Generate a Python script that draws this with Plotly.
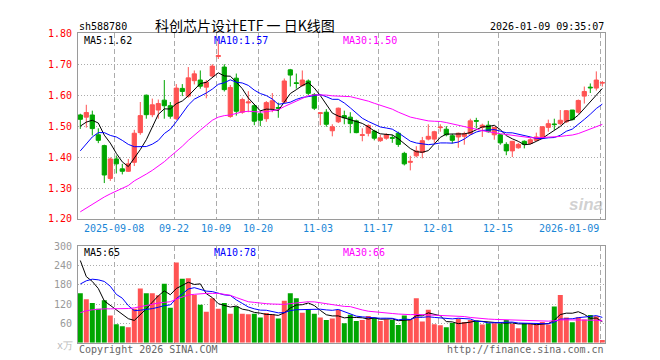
import pandas as pd
import plotly.graph_objects as go

# ---------------- data ----------------
holidays = ["2025-10-01", "2025-10-02", "2025-10-03", "2025-10-06", "2025-10-07",
            "2025-10-08", "2026-01-01", "2026-01-02"]
dates = [d.strftime("%Y-%m-%d") for d in pd.bdate_range("2025-08-29", "2026-01-09")
         if d.strftime("%Y-%m-%d") not in holidays]

open_ = [1.536, 1.529, 1.536, 1.472, 1.437, 1.331, 1.394, 1.362, 1.354, 1.383,
         1.479, 1.600, 1.537, 1.552, 1.584, 1.566, 1.524, 1.622, 1.597, 1.647,
         1.649, 1.626, 1.662, 1.725, 1.691, 1.531, 1.655, 1.545, 1.575, 1.566,
         1.540, 1.524, 1.557, 1.560, 1.578, 1.682, 1.640, 1.631, 1.646, 1.602,
         1.541, 1.545, 1.485, 1.514, 1.534, 1.529, 1.517, 1.470, 1.477, 1.484,
         1.453, 1.461, 1.463, 1.477, 1.412, 1.383, 1.404, 1.415, 1.458, 1.458,
         1.495, 1.490, 1.469, 1.465, 1.467, 1.475, 1.518, 1.496, 1.503, 1.472,
         1.472, 1.441, 1.420, 1.430, 1.451, 1.444, 1.454, 1.461, 1.496, 1.507,
         1.508, 1.514, 1.552, 1.545, 1.597, 1.626, 1.623, 1.639]
high = [1.540, 1.569, 1.550, 1.493, 1.440, 1.399, 1.405, 1.378, 1.394, 1.488,
        1.578, 1.602, 1.589, 1.586, 1.649, 1.578, 1.636, 1.636, 1.691, 1.680,
        1.680, 1.649, 1.700, 1.780, 1.700, 1.633, 1.670, 1.592, 1.613, 1.571,
        1.550, 1.581, 1.607, 1.576, 1.654, 1.685, 1.670, 1.680, 1.651, 1.607,
        1.545, 1.555, 1.506, 1.560, 1.550, 1.545, 1.521, 1.493, 1.506, 1.488,
        1.472, 1.477, 1.472, 1.482, 1.417, 1.404, 1.435, 1.465, 1.506, 1.485,
        1.506, 1.500, 1.475, 1.479, 1.482, 1.524, 1.527, 1.508, 1.517, 1.498,
        1.474, 1.448, 1.451, 1.446, 1.454, 1.461, 1.479, 1.500, 1.521, 1.524,
        1.552, 1.552, 1.552, 1.586, 1.628, 1.638, 1.677, 1.646]
low = [1.491, 1.495, 1.470, 1.445, 1.316, 1.323, 1.347, 1.344, 1.352, 1.371,
       1.472, 1.524, 1.529, 1.524, 1.524, 1.524, 1.520, 1.597, 1.592, 1.635,
       1.621, 1.590, 1.659, 1.717, 1.612, 1.527, 1.534, 1.540, 1.545, 1.503,
       1.500, 1.514, 1.545, 1.527, 1.575, 1.628, 1.621, 1.628, 1.600, 1.552,
       1.503, 1.498, 1.467, 1.510, 1.506, 1.477, 1.477, 1.451, 1.467, 1.454,
       1.449, 1.456, 1.446, 1.433, 1.373, 1.357, 1.399, 1.396, 1.454, 1.446,
       1.482, 1.467, 1.444, 1.430, 1.440, 1.472, 1.493, 1.465, 1.479, 1.456,
       1.440, 1.406, 1.400, 1.427, 1.428, 1.441, 1.451, 1.458, 1.482, 1.488,
       1.503, 1.510, 1.519, 1.540, 1.573, 1.607, 1.615, 1.628]
close = [1.522, 1.544, 1.492, 1.454, 1.342, 1.394, 1.378, 1.354, 1.378, 1.477,
         1.534, 1.537, 1.569, 1.573, 1.566, 1.532, 1.623, 1.612, 1.656, 1.669,
         1.629, 1.642, 1.694, 1.728, 1.618, 1.625, 1.548, 1.586, 1.578, 1.516,
         1.519, 1.576, 1.582, 1.558, 1.646, 1.665, 1.638, 1.649, 1.606, 1.558,
         1.543, 1.506, 1.498, 1.558, 1.527, 1.508, 1.479, 1.472, 1.502, 1.461,
         1.462, 1.472, 1.461, 1.441, 1.378, 1.386, 1.420, 1.453, 1.467, 1.482,
         1.497, 1.472, 1.454, 1.477, 1.475, 1.517, 1.516, 1.503, 1.482, 1.496,
         1.446, 1.420, 1.451, 1.441, 1.441, 1.456, 1.465, 1.498, 1.508, 1.505,
         1.519, 1.550, 1.521, 1.583, 1.612, 1.624, 1.649, 1.641]
volume = [153, 135, 123, 105, 132, 84, 57, 51, 48, 105,
          168, 153, 153, 147, 183, 108, 249, 198, 200, 148,
          118, 96, 138, 105, 123, 90, 112, 90, 88, 90,
          78, 92, 88, 75, 130, 153, 138, 93, 102, 90,
          78, 70, 75, 102, 60, 87, 67, 70, 83, 77,
          67, 72, 70, 55, 84, 73, 138, 66, 102, 57,
          54, 48, 61, 75, 64, 70, 68, 56, 60, 60,
          58, 70, 58, 45, 60, 60, 56, 64, 56, 112,
          148, 78, 63, 79, 72, 86, 82, 8]

# moving-average values for the first days (window not yet full)
ma5_head = [1.500, 1.513, 1.519, 1.510]
ma10_head = [1.420, 1.441, 1.465, 1.479, 1.479, 1.470, 1.465, 1.454, 1.441]
ma30_head = [1.223, 1.235, 1.248, 1.260, 1.271, 1.281, 1.290, 1.298, 1.308, 1.323,
             1.333, 1.345, 1.357, 1.371, 1.385, 1.402, 1.417, 1.435, 1.454, 1.472,
             1.487, 1.503, 1.519, 1.529, 1.534, 1.536, 1.542, 1.546, 1.548]
vma5_head = [255, 205, 190, 168]
vma10_head = [182, 192, 197, 195, 190, 175, 150, 138, 115]
vma30_head = [93, 99, 102, 104, 105, 105, 105, 105, 106, 108,
              112, 115, 120, 123, 125, 127, 135, 142, 148, 150,
              152, 153, 153, 153, 150, 147, 140, 133, 127]

tick_dates = ["2025-09-08", "2025-09-22", "2025-10-09", "2025-10-20", "2025-11-03",
              "2025-11-17", "2025-12-01", "2025-12-15", "2026-01-09"]
tick_labels = ["2025-09-08", "09-22", "10-09", "10-20", "11-03",
               "11-17", "12-01", "12-15", "2026-01-09"]
price_ticks = [1.20, 1.30, 1.40, 1.50, 1.60, 1.70, 1.80]
vol_ticks = [60, 120, 180, 240, 300]

title_text = "科创芯片设计ETF 一 日K线图"
code_text = "sh588780"
time_text = "2026-01-09 09:35:07"
price_ma_labels = ["MA5:1.62", "MA10:1.57", "MA30:1.50"]
vol_ma_labels = ["MA5:65", "MA10:78", "MA30:66"]


def moving_avg(vals, n, head):
    out = list(head)
    for i in range(len(head), len(vals)):
        out.append(sum(vals[i - n + 1:i + 1]) / n)
    return out


ma5 = moving_avg(close, 5, ma5_head)
ma10 = moving_avg(close, 10, ma10_head)
ma30 = moving_avg(close, 30, ma30_head)
vma5 = moving_avg(volume, 5, vma5_head)
vma10 = moving_avg(volume, 10, vma10_head)
vma30 = moving_avg(volume, 30, vma30_head)

# ---------------- style ----------------
W, H = 660, 360
L, R, T1, B1, T2, B2 = 70, 597, 20, 212, 240, 340
RED = "#FF5353"
GREEN = "#00A600"
MONO = "DejaVu Sans Mono"
GRID = "#ABABAB"
BORDER = "#9A9A9A"
DATE_BLUE = "#1A86D6"
MA_COLORS = ["#000000", "#0000FF", "#FF00FF"]

idx = list(range(len(dates)))
grid_x = [dates.index(d) - 1 / 3 for d in tick_dates]
vol_colors = [RED if c >= o else GREEN for o, c in zip(open_, close)]


def px(x):
    return x / W


def py(y):
    return 1 - y / H


fig = go.Figure()
fig.add_trace(go.Candlestick(
    x=idx, open=open_, high=high, low=low, close=close,
    increasing=dict(line=dict(color=RED, width=1), fillcolor=RED),
    decreasing=dict(line=dict(color=GREEN, width=1), fillcolor=GREEN),
    whiskerwidth=0, xaxis="x", yaxis="y", showlegend=False, hoverinfo="skip"))
for vals, col in zip([ma5, ma10, ma30], MA_COLORS):
    fig.add_trace(go.Scatter(x=idx, y=vals, mode="lines", line=dict(color=col, width=1),
                             xaxis="x", yaxis="y", showlegend=False, hoverinfo="skip"))
fig.add_trace(go.Bar(x=idx, y=volume, marker=dict(color=vol_colors, line=dict(width=0)),
                     xaxis="x2", yaxis="y2", showlegend=False, hoverinfo="skip"))
for vals, col in zip([vma5, vma10, vma30], MA_COLORS):
    fig.add_trace(go.Scatter(x=idx, y=vals, mode="lines", line=dict(color=col, width=1),
                             xaxis="x2", yaxis="y2", showlegend=False, hoverinfo="skip"))

xrange = [-0.383, len(dates) - 1 + 0.45]
xcommon = dict(domain=[px(L), px(R)], range=xrange, tickvals=grid_x, showticklabels=False,
               ticks="", showgrid=True, gridcolor=GRID, gridwidth=1, griddash="5px,3px",
               showline=True, mirror=True, linecolor=BORDER, linewidth=1, zeroline=False,
               fixedrange=True)
fig.update_layout(
    width=W, height=H, margin=dict(l=0, r=0, t=0, b=0),
    paper_bgcolor="white", plot_bgcolor="white",
    bargap=1 / 6, boxgap=0.3, boxgroupgap=0,
    xaxis=dict(anchor="y", rangeslider=dict(visible=False), **xcommon),
    xaxis2=dict(anchor="y2", matches="x", **xcommon),
    yaxis=dict(domain=[py(B1), py(T1)], range=[1.2, 1.8], tickvals=price_ticks,
               ticktext=[f"{v:.2f}" for v in price_ticks],
               tickfont=dict(family=MONO, size=10, color="#FF0000"),
               ticks="", ticklabelstandoff=3,
               showgrid=True, gridcolor=GRID, griddash="1px,2px", gridwidth=1,
               showline=True, mirror=True, linecolor=BORDER, linewidth=1, zeroline=False,
               anchor="x", fixedrange=True),
    yaxis2=dict(domain=[py(B2), py(T2)], range=[0, 300], tickvals=vol_ticks,
                ticktext=[str(v) for v in vol_ticks],
                tickfont=dict(family=MONO, size=10, color="#999999"),
                ticks="", ticklabelstandoff=3,
                showgrid=True, gridcolor=GRID, griddash="1px,2px", gridwidth=1,
                showline=True, mirror=True, linecolor=BORDER, linewidth=1, zeroline=False,
                anchor="x2", fixedrange=True),
)

ann = []


def text(x, y, s, color="#000", size=10, family=MONO, xanchor="left", xref="paper", **kw):
    ann.append(dict(x=x, y=y, xref=xref, yref="paper", text=s, showarrow=False,
                    xanchor=xanchor, yanchor="middle", borderpad=0,
                    font=dict(family=family, size=size, color=color), **kw))


text(px(L), py(13), code_text)
text(px(237), py(11), title_text, size=14, family="Noto Sans CJK SC", xanchor="center")
text(px(R), py(13), time_text, xanchor="right")
for lab, col, xx in zip(price_ma_labels, MA_COLORS, [75, 205, 334]):
    text(px(xx), py(27), lab, color=col)
for lab, col, xx in zip(vol_ma_labels, MA_COLORS, [75, 205, 334]):
    text(px(xx), py(247), lab, color=col)
for d, lab in zip(tick_dates, tick_labels):
    gx = dates.index(d) - 1 / 3
    text(gx, py(222), lab, color=DATE_BLUE, xref="x",
         xanchor="right" if d == tick_dates[-1] else "center")
text(px(66), py(343), "x万", color="#BBBBBB", xanchor="right", size=10)
text(px(L), py(347), "Copyright 2026 SINA.COM", color="#666666")
text(px(R), py(347), "http://finance.sina.com.cn", color="#666666", xanchor="right")
text(px(578), py(197), "<b><i>sina</i></b>", color="rgba(170,170,170,0.55)", size=17,
     family="Liberation Sans", xanchor="center")
fig.update_layout(annotations=ann)

fig.write_html("out.html")
